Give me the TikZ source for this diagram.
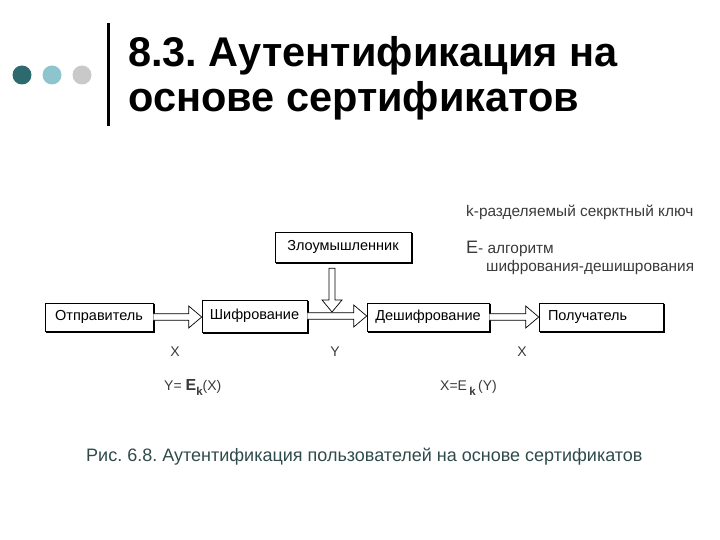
\documentclass[tikz,border=0pt]{standalone}
\usepackage{fontspec}
\setmainfont{Liberation Sans}
\usetikzlibrary{calc}
\definecolor{dteal}{HTML}{2D6A6E}
\definecolor{lteal}{HTML}{8EC5CC}
\definecolor{lgray}{HTML}{C9C9C9}
\definecolor{capc}{HTML}{2F4A4A}
\definecolor{lblc}{HTML}{3A3A3A}
\newcommand\harr[2]{%
  \filldraw[arr] let \p1=(#1.east), \p2=(#2.west) in
   (\x1,\y1+3.3) -- (\x2-13,\y1+3.3) -- (\x2-13,\y1+11) -- (\x2,\y1)
   -- (\x2-13,\y1-11) -- (\x2-13,\y1-3.3) -- (\x1,\y1-3.3);}
\frenchspacing
\begin{document}
\begin{tikzpicture}[x=1pt,y=-1pt,
  box/.style={draw, line width=0.6pt, fill=white, inner sep=0pt,
    font=\fontsize{14.5}{15}\selectfont},
  arr/.style={draw=black, fill=white, line width=0.7pt, line join=miter},
  lbl/.style={font=\fontsize{14}{15}\selectfont, text=lblc, inner sep=0pt},
  leg/.style={font=\fontsize{15.4}{16}\selectfont, text=lblc, inner sep=0pt, anchor=base west}]
\useasboundingbox (0,0) rectangle (720,540);
% header decoration
\fill[dteal] (22,75) circle (9.5);
\fill[lteal] (52,75) circle (9.5);
\fill[lgray] (82,75) circle (9.5);
\fill[black] (107,23) rectangle (110,126);
\node[anchor=base west, inner sep=0, font=\fontsize{41.5}{45}\bfseries\selectfont] (t1) at (128,67) {8.3. Аутентификация на};
\node[anchor=base west, inner sep=0, font=\fontsize{41.5}{45}\bfseries\selectfont] (t2) at (128,112) {основе сертификатов};
% boxes
\node[box, minimum width=108, minimum height=28] (snd) at (99,317) {Отправитель};
\node[box, minimum width=105, minimum height=32] (enc) at (254.5,316) {Шифрование};
\node[box, minimum width=136, minimum height=30] (adv) at (343,247) {Злоумышленник};
\node[box, minimum width=122, minimum height=28] (dec) at (428,317) {Дешифрование};
\node[box, minimum width=124, minimum height=28, text width=106, align=left] (rcv) at (601,317) {Получатель};
\foreach \n in {snd,enc,adv,dec,rcv}
  \draw[line width=1.4pt] ($(\n.north east)+(0.5,1)$) -- ($(\n.south east)+(0.5,0.5)$) -- ($(\n.south west)+(1,0.5)$);
% arrows
\harr{snd}{enc}
\harr{enc}{dec}
\harr{dec}{rcv}
\coordinate (hit) at (332,312);
\filldraw[arr] let \p1=($(adv.south)+(-11,6)$), \p2=(hit) in
   (\x2-3,\y1) -- (\x2-3,\y2+12) -- (\x2-10,\y2+12) -- (\x2,\y2)
   -- (\x2+10,\y2+12) -- (\x2+3,\y2+12) -- (\x2+3,\y1) -- cycle;
% labels
\node[lbl] (lx1) at (175,352) {X};
\node[lbl] (ly) at (335,352) {Y};
\node[lbl] (lx2) at (522,352) {X};
\node[lbl, anchor=base west] (f1) at (164,390) {Y= {\fontsize{16}{16}\bfseries\selectfont E}\raisebox{-5pt}{\fontsize{11.5}{12}\bfseries\selectfont k}(X)};
\node[lbl, anchor=base west] (f2) at (440,390) {X=E\,\raisebox{-5pt}{\fontsize{11.5}{12}\bfseries\selectfont k}\,(Y)};
% legend
\node[leg] (k1) at (466,216) {k-разделяемый секрктный ключ};
\node[leg] (e1) at (466,253) {{\fontsize{18}{18}\selectfont E}- алгоритм};
\node[leg] (e2) at (486,271) {шифрования-дешишрования};
% caption
\node[anchor=base west, inner sep=0, text=capc, font=\fontsize{18}{20}\selectfont] (cap) at (86,461) {Рис. 6.8. Аутентификация пользователей на основе сертификатов};
\end{tikzpicture}
\end{document}
